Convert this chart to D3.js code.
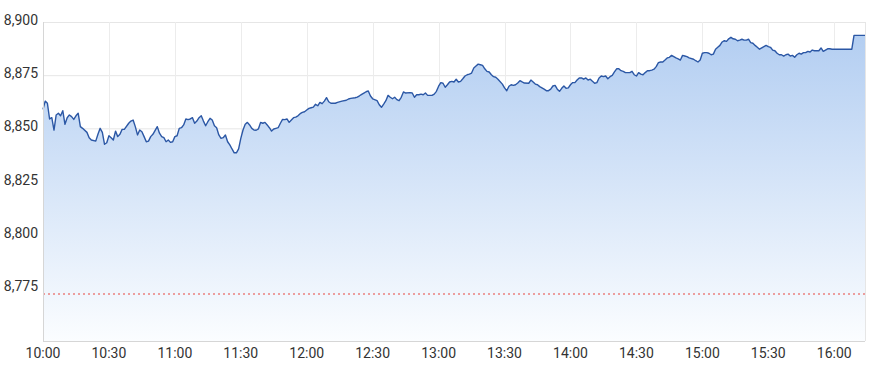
<!DOCTYPE html>
<html>
<head>
<meta charset="utf-8">
<script src="https://cdn.jsdelivr.net/npm/d3@7"></script>
<style>
body { margin: 0; background: #fff; }
text { font-family: Roboto, Arial, sans-serif; }
</style>
</head>
<body>
<script>
// minutes after the 10:00 open
var minutes = [0,1,2,3,4,5,6,7,8,9,10,11,12,13,14,15,16,17,18,20,21,22,24,25,26,27,28,29,30,31,32,33,34,35,36,37,39,40,41,42,43,44,45,46,47,48,49,50,52,53,54,55,56,57,58,59,
  60,61,62,63,64,65,66,67,68,69,70,71,72,73,74,75,76,77,78,79,80,81,82,83,84,85,86,87,88,89,90,91,92,93,94,95,96,97,98,99,100,101,102,103,104,105,106,107,108,109,
  110,111,112,113,114,115,116,117,118,119,120,121,122,123,124,125,126,127,128,129,130,131,133,134,136,138,139,140,142,143,144,145,146,147,148,149,150,152,153,154,155,156,157,158,159,
  160,161,162,163,164,165,167,168,169,170,171,172,173,174,175,176,177,178,179,180,181,182,183,184,185,186,187,188,189,190,191,192,193,194,195,196,197,198,199,200,201,202,203,204,205,206,207,209,
  210,211,212,213,214,215,216,217,218,219,221,222,223,224,225,226,228,229,230,231,232,233,234,235,236,237,238,239,240,241,242,243,244,245,246,247,248,249,250,251,252,253,254,255,256,257,258,259,
  260,261,262,263,264,265,267,268,269,270,271,272,273,274,275,276,277,278,279,280,281,282,283,284,285,286,287,288,289,290,291,292,293,294,296,297,298,299,300,301,302,303,304,305,306,307,308,309,
  310,311,312,313,314,315,316,317,318,319,320,321,322,323,324,325,326,327,328,329,330,331,332,333,334,335,336,337,338,339,340,341,342,343,344,345,346,347,348,349,350,351,352,353,354,355,356,357,358,359,
  368,369,374];

var prices = [8858.9,8862.8,8861.8,8854.4,8855.0,8849.2,8856.3,8857.1,8855.9,8858.3,8851.9,8855.0,8856.3,8855.5,8854.2,8855.9,8857.1,8850.8,8850.0,8848.1,8845.6,8844.5,8844.0,8847.2,8850.0,8848.1,8842.5,8843.2,8846.5,8845.6,8844.5,8848.7,8846.1,8847.2,8849.5,8849.5,8852.4,8853.4,8853.9,8850.8,8846.9,8849.2,8848.4,8846.1,8843.7,8844.0,8846.1,8847.2,8850.8,8847.7,8846.1,8845.6,8843.7,8844.5,8843.4,8843.7,
  8846.1,8846.5,8850.0,8850.3,8851.6,8854.4,8854.1,8854.4,8855.0,8852.4,8853.4,8855.0,8855.9,8853.4,8851.2,8853.1,8854.7,8853.9,8851.2,8850.3,8846.9,8845.3,8845.6,8846.9,8843.7,8842.2,8840.3,8838.5,8838.5,8840.3,8845.3,8849.2,8851.9,8852.8,8851.6,8850.0,8849.2,8849.1,8849.7,8852.8,8852.4,8852.8,8851.6,8850.3,8848.7,8849.7,8850.0,8850.3,8852.4,8854.2,
  8854.1,8854.4,8852.8,8853.9,8855.0,8855.3,8855.9,8856.9,8857.5,8857.8,8858.6,8859.4,8859.7,8860.0,8861.3,8860.6,8862.2,8861.6,8862.8,8864.4,8862.5,8861.8,8861.8,8862.2,8862.8,8863.2,8863.8,8864.1,8864.4,8864.7,8865.3,8866.0,8866.6,8867.2,8867.6,8865.2,8863.9,8863.0,8861.1,8859.9,8861.4,8863.0,8865.5,8864.6,8863.9,
  8864.6,8863.5,8863.0,8864.6,8867.1,8866.6,8866.8,8866.6,8864.6,8865.8,8865.8,8866.1,8865.8,8866.6,8865.5,8865.5,8865.5,8866.1,8867.4,8869.8,8871.5,8871.2,8869.3,8870.5,8871.8,8872.1,8871.8,8873.1,8871.8,8872.1,8873.3,8874.6,8875.2,8875.5,8876.0,8878.4,8879.3,8880.2,8879.9,8879.6,8878.0,8876.8,8876.5,8875.2,8874.3,8874.0,8873.1,8870.8,
  8869.0,8867.7,8869.8,8870.5,8870.2,8870.5,8871.3,8872.4,8871.8,8871.3,8871.2,8872.7,8871.8,8870.8,8870.5,8869.6,8868.4,8867.7,8867.7,8868.4,8869.9,8870.2,8868.4,8867.4,8868.8,8869.9,8868.8,8869.0,8870.5,8871.5,8871.5,8872.7,8873.7,8873.7,8873.1,8873.7,8872.7,8873.1,8872.1,8871.2,8871.5,8873.7,8874.6,8874.3,8874.6,8873.3,8874.3,8874.9,
  8876.5,8878.0,8878.0,8877.1,8876.8,8876.2,8876.2,8876.8,8875.2,8874.6,8876.2,8875.5,8875.2,8876.2,8877.1,8877.1,8877.4,8877.8,8879.0,8880.9,8881.2,8881.2,8882.1,8883.1,8883.4,8884.3,8883.7,8883.1,8882.7,8882.1,8884.3,8884.0,8883.7,8883.1,8882.5,8881.8,8881.2,8882.1,8885.3,8885.6,8885.6,8885.3,8884.6,8884.9,8887.2,8888.1,8889.0,8890.6,
  8891.2,8890.9,8892.1,8892.8,8892.1,8891.9,8891.2,8891.5,8891.9,8891.5,8891.5,8891.9,8890.3,8890.0,8889.0,8888.1,8887.2,8887.8,8888.4,8889.0,8888.4,8888.1,8886.8,8886.5,8885.3,8884.6,8884.6,8884.0,8884.6,8884.9,8884.0,8884.3,8883.4,8884.6,8885.3,8884.9,8885.6,8885.6,8886.2,8885.9,8886.8,8886.5,8886.5,8886.5,8887.8,8886.2,8886.8,8887.4,8887.4,8887.2,
  8887.2,8893.7,8893.7];

var yTicks = [8775, 8800, 8825, 8850, 8875, 8900];
var xTickLabels = ["10:00","10:30","11:00","11:30","12:00","12:30","13:00","13:30","14:00","14:30","15:00","15:30","16:00"];
var prevClose = 8772.1;

window.onload = function() {
    var width = 870, height = 371;
    var margin = {top: 22, right: 5, bottom: 30, left: 43};

    var parseTime = d3.timeParse("%H:%M");
    var open = parseTime("10:00");

    var data = minutes.map(function(m, i) {
        return {date: d3.timeMinute.offset(open, m), price: prices[i]};
    });

    var svg = d3.select("body")
        .append("svg")
        .attr("width", width)
        .attr("height", height);

    var x = d3.scaleTime()
        .domain([open, d3.timeMinute.offset(open, d3.max(minutes))])
        .range([margin.left, width - margin.right]);

    var y = d3.scaleLinear()
        .domain([8750, 8900])
        .range([height - margin.bottom, margin.top]);

    // background gradient for the area
    var grad = svg.append("defs").append("linearGradient")
        .attr("id", "areaFill")
        .attr("gradientUnits", "userSpaceOnUse")
        .attr("x1", 0).attr("x2", 0)
        .attr("y1", y(8900)).attr("y2", y(8750));
    grad.append("stop").attr("offset", "0%").attr("stop-color", "#b0ccf1");
    grad.append("stop").attr("offset", "100%").attr("stop-color", "#fbfdff");

    // grid lines
    svg.append("g")
        .selectAll("line")
        .data(yTicks)
        .enter()
        .append("line")
        .attr("x1", margin.left)
        .attr("x2", width - margin.right)
        .attr("y1", function(d) { return y(d) + 0.5; })
        .attr("y2", function(d) { return y(d) + 0.5; })
        .style("stroke", "#e6e6e6");

    var tickDates = xTickLabels.map(function(s) { return parseTime(s); });

    svg.append("g")
        .selectAll("line")
        .data(tickDates)
        .enter()
        .append("line")
        .attr("x1", function(d) { return Math.round(x(d)) + 0.5; })
        .attr("x2", function(d) { return Math.round(x(d)) + 0.5; })
        .attr("y1", y(8900))
        .attr("y2", y(8750))
        .style("stroke", "#ececec");

    // area + line
    var area = d3.area()
        .x(function(d) { return x(d.date); })
        .y0(y(8750))
        .y1(function(d) { return y(d.price); });

    var line = d3.line()
        .x(function(d) { return x(d.date); })
        .y(function(d) { return y(d.price); });

    svg.append("path")
        .datum(data)
        .attr("d", area)
        .style("fill", "url(#areaFill)");

    svg.append("path")
        .datum(data)
        .attr("d", line)
        .style("fill", "none")
        .style("stroke", "#2b57a5")
        .style("stroke-width", 1.4)
        .style("stroke-linejoin", "round");

    // previous close
    svg.append("line")
        .attr("x1", margin.left)
        .attr("x2", width - margin.right)
        .attr("y1", y(prevClose))
        .attr("y2", y(prevClose))
        .style("stroke", "#e8453c")
        .style("stroke-width", 1)
        .style("stroke-dasharray", "2,3");

    // frame: left axis, bottom axis, right edge
    svg.append("line")
        .attr("x1", margin.left + 0.5).attr("x2", margin.left + 0.5)
        .attr("y1", y(8900)).attr("y2", y(8750))
        .style("stroke", "#d6d6d6");
    svg.append("line")
        .attr("x1", width - margin.right + 0.5).attr("x2", width - margin.right + 0.5)
        .attr("y1", y(8900)).attr("y2", y(8750))
        .style("stroke", "#e6e6e6");
    svg.append("line")
        .attr("x1", margin.left).attr("x2", width - margin.right)
        .attr("y1", y(8750) + 0.5).attr("y2", y(8750) + 0.5)
        .style("stroke", "#d6d6d6");

    var fmt = d3.format(",");

    // y labels
    svg.append("g")
        .selectAll("text")
        .data(yTicks)
        .enter()
        .append("text")
        .attr("x", 38)
        .attr("y", function(d) { return y(d) + 3; })
        .attr("text-anchor", "end")
        .style("font-size", "14px")
        .style("fill", "#333")
        .text(function(d) { return fmt(d); });

    // x labels
    svg.append("g")
        .selectAll("text")
        .data(tickDates)
        .enter()
        .append("text")
        .attr("x", function(d) { return x(d); })
        .attr("y", 358)
        .attr("text-anchor", "middle")
        .style("font-size", "14px")
        .style("fill", "#333")
        .text(function(d, i) { return xTickLabels[i]; });
};
</script>
</body>
</html>
